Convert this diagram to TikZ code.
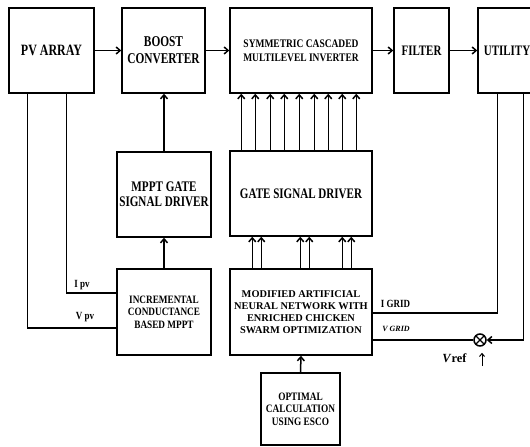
\documentclass[tikz,border=0pt]{standalone}
\usepackage{fontspec}
\setmainfont{Liberation Serif}
\newfontfamily\condA[FakeStretch=0.76]{Liberation Serif}
\newfontfamily\condB[FakeStretch=0.82]{Liberation Serif}
\usepackage{tikz}
\usetikzlibrary{arrows.meta}

\tikzset{
  block/.style={draw=black, line width=1.5bp, align=center, inner sep=0pt},
  wire/.style={line width=1.5bp},
  arrow/.style={wire, -{Straight Barb[length=4bp, width=7bp]}},
}
\newcommand{\fsz}[2]{\bfseries\fontsize{#1}{#2}\selectfont}

\begin{document}
\begin{tikzpicture}[x=1bp, y=-1bp]
    \useasboundingbox (0, 0) rectangle (530, 447);

    % draw top row of blocks
    \node[block, minimum width=85bp, minimum height=85bp, font=\condA\fsz{15.8}{17}] (pv) at (51.5, 50.5) {PV ARRAY};
    \node[block, minimum width=83bp, minimum height=85bp, font=\condA\fsz{15}{17}] (boost) at (163.5, 50.5) {BOOST\\CONVERTER};
    \node[block, minimum width=142bp, minimum height=85bp, font=\condB\fsz{11.6}{14}] (inv) at (301, 50.5) {SYMMETRIC CASCADED\\MULTILEVEL INVERTER};
    \node[block, minimum width=55bp, minimum height=85bp, font=\condA\fsz{14.5}{16}] (filter) at (421.5, 50.5) {FILTER};
    \node[block, minimum width=58bp, minimum height=85bp, font=\condA\fsz{14.5}{16}] (utility) at (507, 50.5) {UTILITY};

    % draw driver and control blocks
    \node[block, minimum width=94bp, minimum height=85bp, font=\condA\fsz{14.7}{15.5}] (mppt) at (164, 194.5) {MPPT GATE\\SIGNAL DRIVER};
    \node[block, minimum width=94bp, minimum height=86bp, font=\condB\fsz{11.3}{12.5}] (inc) at (164, 312) {INCREMENTAL\\CONDUCTANCE\\BASED MPPT};
    \node[block, minimum width=142bp, minimum height=85bp, font=\condA\fsz{14.6}{16}] (gate) at (301, 193.5) {GATE SIGNAL DRIVER};
    \node[block, minimum width=142bp, minimum height=86bp, font=\fsz{10.4}{12.2}] (ann) at (301, 312) {MODIFIED ARTIFICIAL\\NEURAL NETWORK WITH\\ENRICHED CHICKEN\\SWARM OPTIMIZATION};
    \node[block, minimum width=79bp, minimum height=72bp, font=\condB\fsz{11.4}{12.5}] (esco) at (300.5, 409) {OPTIMAL\\CALCULATION\\USING ESCO};

    % draw summing junction
    \node[circle, draw, wire, minimum size=12bp, inner sep=0pt,
      path picture={\draw[line width=1.2bp] (path picture bounding box.north west) -- (path picture bounding box.south east)
                      (path picture bounding box.north east) -- (path picture bounding box.south west);}] (sum) at (480, 340) {};

    % draw power path
    \draw[arrow] (pv.east) -- (boost.west);
    \draw[arrow] (boost.east) -- (inv.west);
    \draw[arrow] (inv.east) -- (filter.west);
    \draw[arrow] (filter.east) -- (utility.west);

    % draw mppt path
    \draw[arrow] (inc.north) -- (mppt.south);
    \draw[arrow] (mppt.north) -- (mppt.north |- boost.south);
    \draw[arrow] (esco.north) -- (ann.south);

    % draw gate signals
    \foreach \x in {12, 26, 41, 55, 70, 85, 99, 113, 127}
      \draw[arrow] ([xshift=\x bp]gate.north west) -- ([xshift=\x bp]gate.north west |- inv.south);
    \foreach \x in {23, 32, 71, 80, 113, 122}
      \draw[arrow] ([xshift=\x bp]ann.north west) -- ([xshift=\x bp]ann.north west |- gate.south);

    % draw pv measurements
    \draw[wire] ([xshift=58bp]pv.south west) |- ([yshift=19bp]inc.west);
    \draw[wire] ([xshift=19bp]pv.south west) |- ([yshift=-16bp]inc.west);
    \node[font=\condB\fsz{11}{12}] (ipv) at (82, 285) {I pv};
    \node[font=\condB\fsz{11}{12}] (vpv) at (85, 317) {V pv};

    % draw grid measurements
    \draw[wire] ([xshift=20bp]utility.south west) |- ([yshift=-1bp]ann.east);
    \draw[arrow] ([xshift=46bp]utility.south west) |- (sum.east);
    \draw[wire] (sum.west -| ann.east) -- (sum.west);
    \node[font=\condB\fsz{11}{12}] (igrid) at (395.5, 304) {I GRID};
    \node[font=\fsz{8}{10}\itshape] (vgrid) at (396, 329) {V GRID};

    % draw reference
    \node[font=\fsz{12.5}{14}] (vref) at (454.5, 358) {\textit{V}ref};
    \coordinate (refin) at (482, 366);
    \draw[line width=1bp, shorten >=6bp, -{Straight Barb[length=3bp, width=5bp]}] (refin) -- (refin |- sum.south);
\end{tikzpicture}
\end{document}
